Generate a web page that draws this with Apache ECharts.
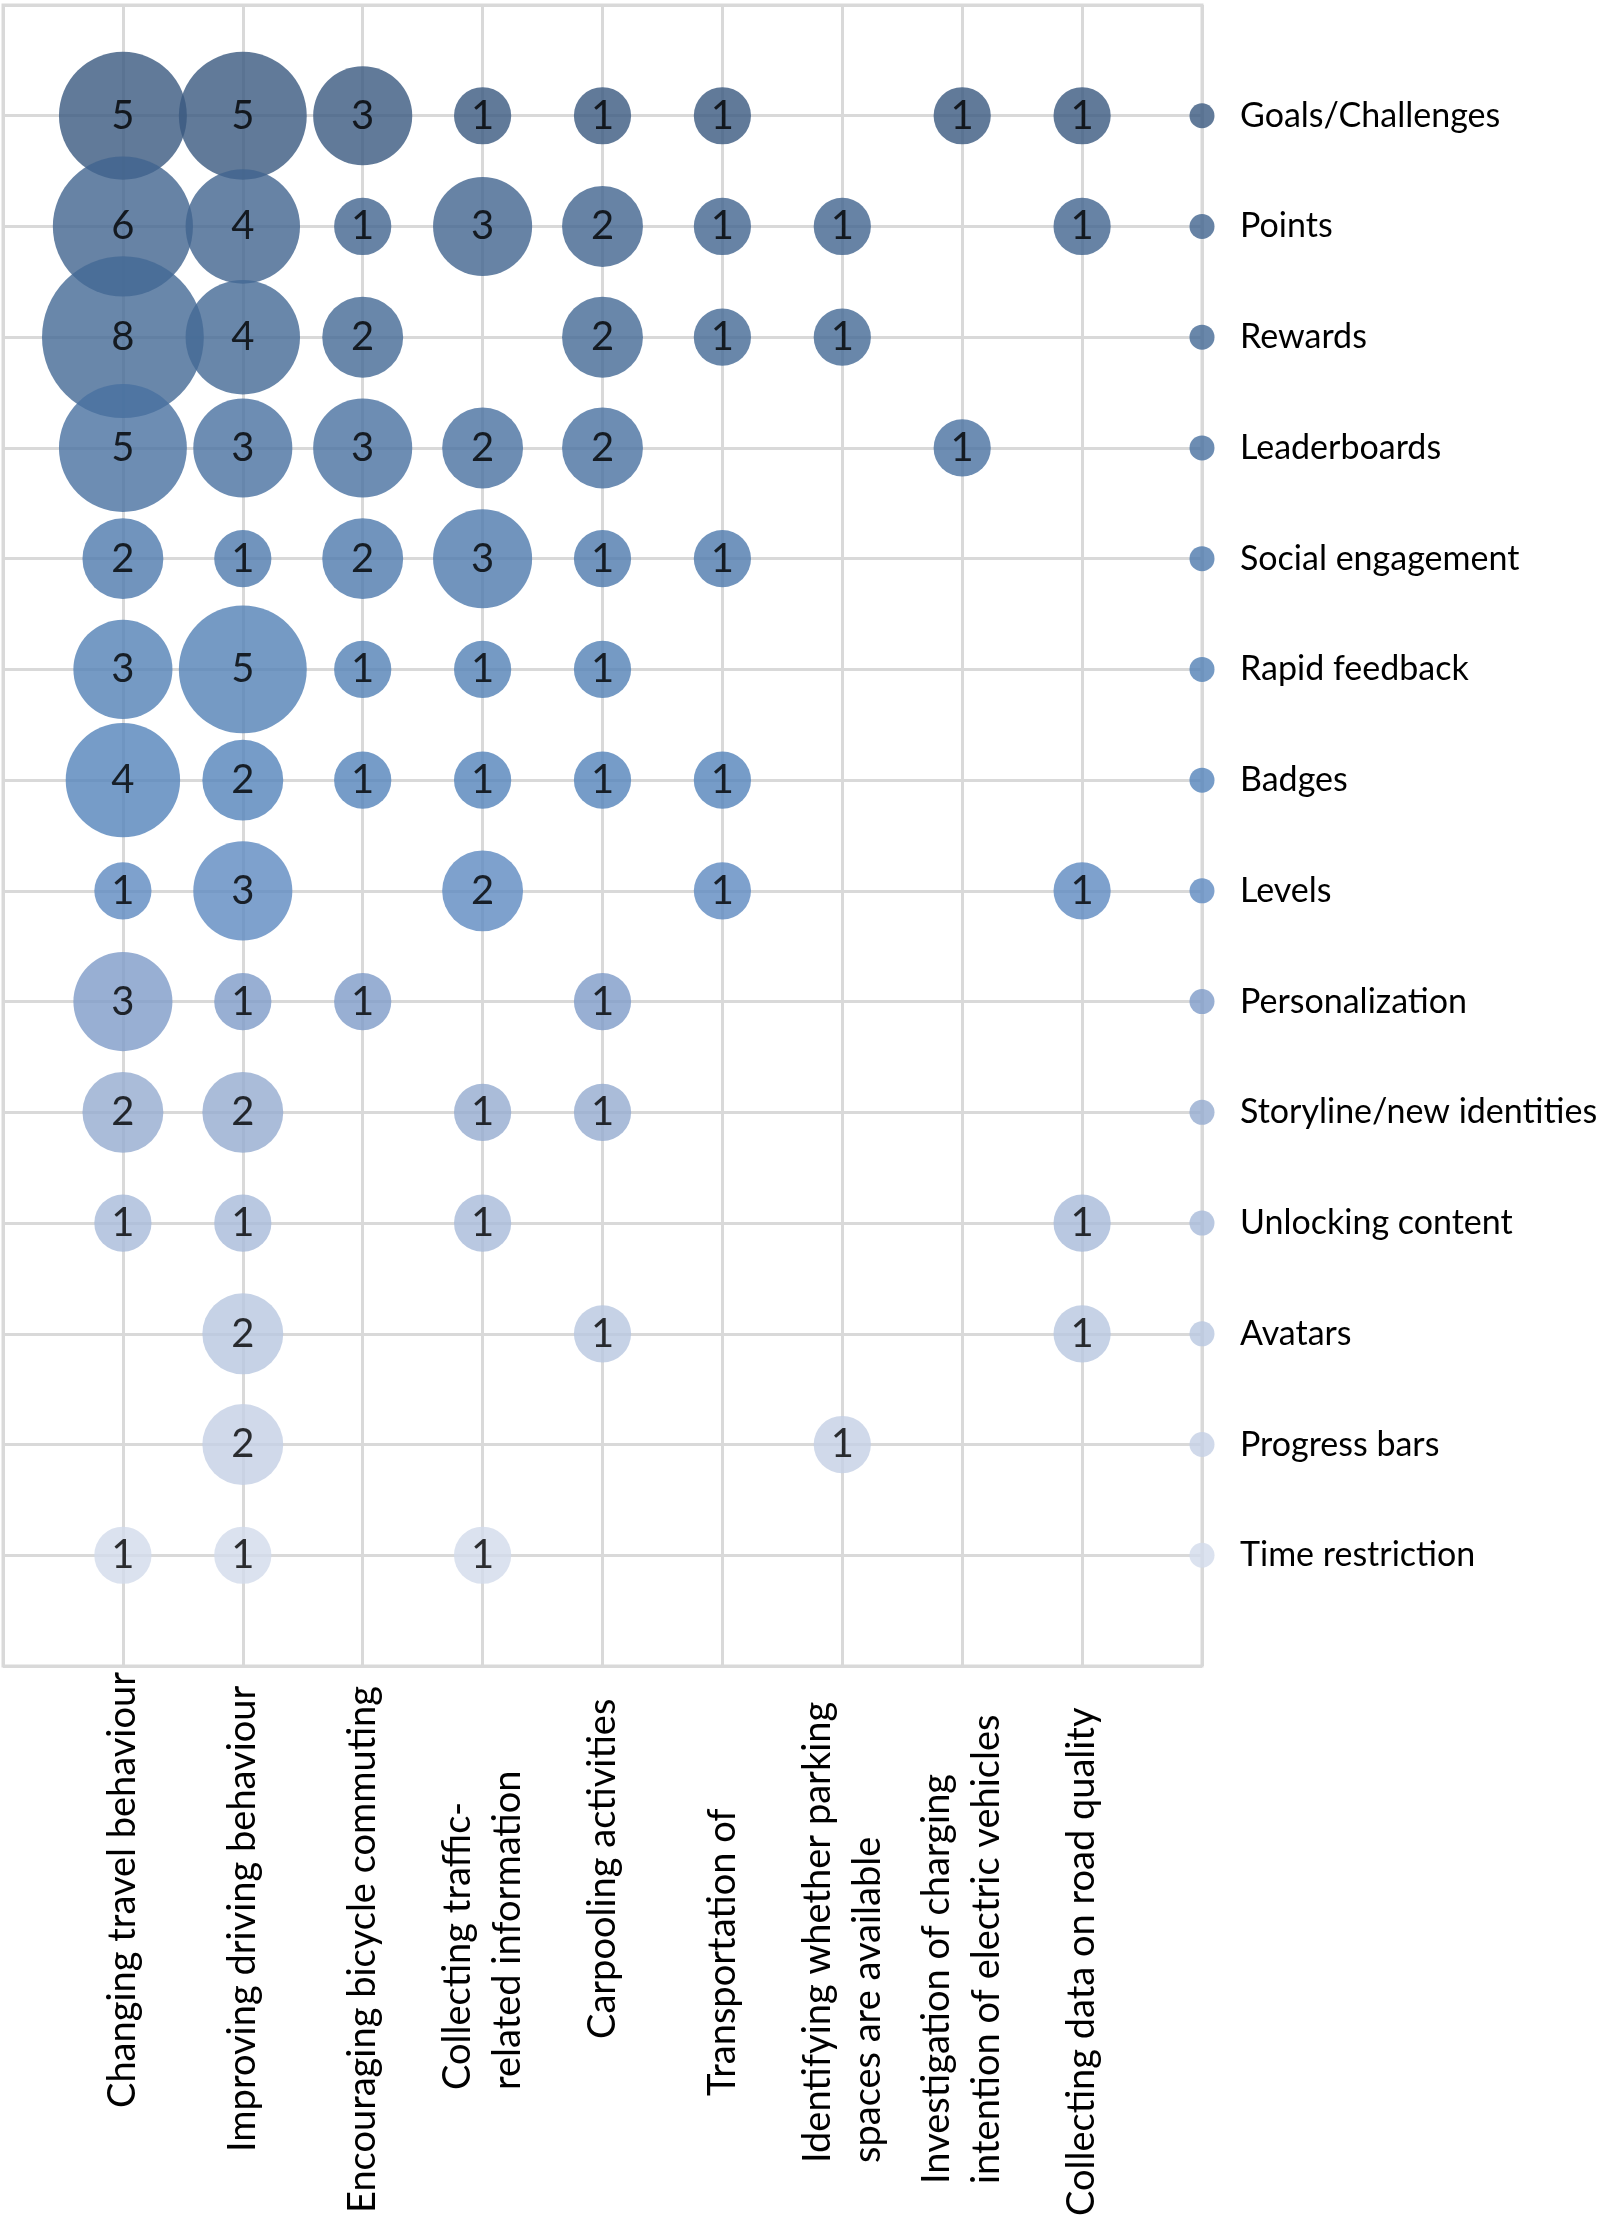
<!DOCTYPE html>
<html><head><meta charset="utf-8">
<script src="https://cdn.jsdelivr.net/npm/echarts/dist/echarts.min.js"></script>
<style>html,body{margin:0;padding:0;background:#fff}#c{width:1600px;height:2220px}</style>
</head><body><div id="c"></div>
<script>
// Purposes (x categories, left to right)
const purposes = [
  'Changing travel behaviour',
  'Improving driving behaviour',
  'Encouraging bicycle commuting',
  'Collecting traffic-\nrelated information',
  'Carpooling activities',
  'Transportation of',
  'Identifying whether parking\nspaces are available',
  'Investigation of charging\nintention of electric vehicles',
  'Collecting data on road quality'
];
// Game elements (rows, top to bottom)
const features = [
  'Goals/Challenges','Points','Rewards','Leaderboards','Social engagement',
  'Rapid feedback','Badges','Levels','Personalization','Storyline/new identities',
  'Unlocking content','Avatars','Progress bars','Time restriction'
];
// counts per row (0 = no bubble)
const goals       = [5,5,3,1,1,1,0,1,1];
const points      = [6,4,1,3,2,1,1,0,1];
const rewards     = [8,4,2,0,2,1,1,0,0];
const leaderboard = [5,3,3,2,2,0,0,1,0];
const social      = [2,1,2,3,1,1,0,0,0];
const rapid       = [3,5,1,1,1,0,0,0,0];
const badges      = [4,2,1,1,1,1,0,0,0];
const levels      = [1,3,0,2,0,1,0,0,1];
const personal    = [3,1,1,0,1,0,0,0,0];
const storyline   = [2,2,0,1,1,0,0,0,0];
const unlocking   = [1,1,0,1,0,0,0,0,1];
const avatars     = [0,2,0,0,1,0,0,0,1];
const progress    = [0,2,0,0,0,0,1,0,0];
const timeRestr   = [1,1,0,1,0,0,0,0,0];
const counts = [goals,points,rewards,leaderboard,social,rapid,badges,levels,personal,storyline,unlocking,avatars,progress,timeRestr];

// ---- styles ----
const ALPHA = 0.8;
const seen = [[97,122,153],[103,131,165],[105,135,170],[109,141,179],[113,148,189],[117,154,196],[118,156,200],
              [126,161,205],[152,175,211],[170,188,217],[185,200,225],[198,210,230],[208,217,234],[219,226,239]];
const baseColors = seen.map(c => 'rgb(' + c.map(v => Math.max(0, Math.round((v - 255*(1-ALPHA))/ALPHA))).join(',') + ')');
const FONT = 'Lato';
const labelShift = [108, 64, 3, 126, 177, 120, 53, 32, 0];
const rich = {};
labelShift.forEach((p, i) => { rich['s'+i] = {padding:[0,0,0,p], fontSize:38, lineHeight:50, fontFamily:FONT, color:'#000'}; });

const nRows = features.length;
const series = counts.map((row, r) => ({
  type:'scatter', name: features[r], clip:false, z: 3,
  data: row.map((v, c) => v > 0 ? [c+1, nRows - r, v] : null).filter(d => d),
  symbolSize: d => 57.2*Math.sqrt(d[2]),
  itemStyle: {color: baseColors[r], opacity: ALPHA},
  label: {show:true, position:'inside', formatter: p => String(p.value[2]),
          color:'#000', fontSize:40, fontFamily:FONT},
  emphasis:{disabled:true}
}));
series.push({
  type:'scatter', clip:false, z: 3, symbolSize: 25,
  data: features.map((f, i) => ({value:[purposes.length + 1, nRows - i], itemStyle:{color: baseColors[i], opacity: ALPHA}})),
  emphasis:{disabled:true}
});

const gridLine = {show:true, lineStyle:{color:'#d9d9d9', width:3}};
const chart = echarts.init(document.getElementById('c'), null, {renderer:'canvas'});
chart.setOption({
  animation:false,
  backgroundColor:'#fff',
  grid:{left:3, top:5, width:1199, height:1661, show:true, borderColor:'#d9d9d9', borderWidth:3, containLabel:false, outerBoundsMode:'none'},
  xAxis:{
    type:'value', min:0, max:purposes.length + 1, interval:1,
    splitLine:gridLine, axisLine:{show:false}, axisTick:{show:false},
    axisLabel:{
      rotate:90, align:'left', margin:550, hideOverlap:false, showMinLabel:true, showMaxLabel:true,
      formatter: v => {
        const i = v - 1;
        if (i < 0 || i >= purposes.length) return '';
        return purposes[i].split('\n').map(l => '{s' + i + '|' + l + '}').join('\n');
      },
      rich: rich
    }
  },
  yAxis:{
    type:'value', min:0, max:nRows + 1, interval:1, position:'right',
    splitLine:gridLine, axisLine:{show:false}, axisTick:{show:false},
    axisLabel:{
      margin:38, color:'#000', fontSize:34, fontFamily:FONT, align:'left',
      formatter: v => (v >= 1 && v <= nRows) ? features[nRows - v] : ''
    }
  },
  series: series
});
</script></body></html>
